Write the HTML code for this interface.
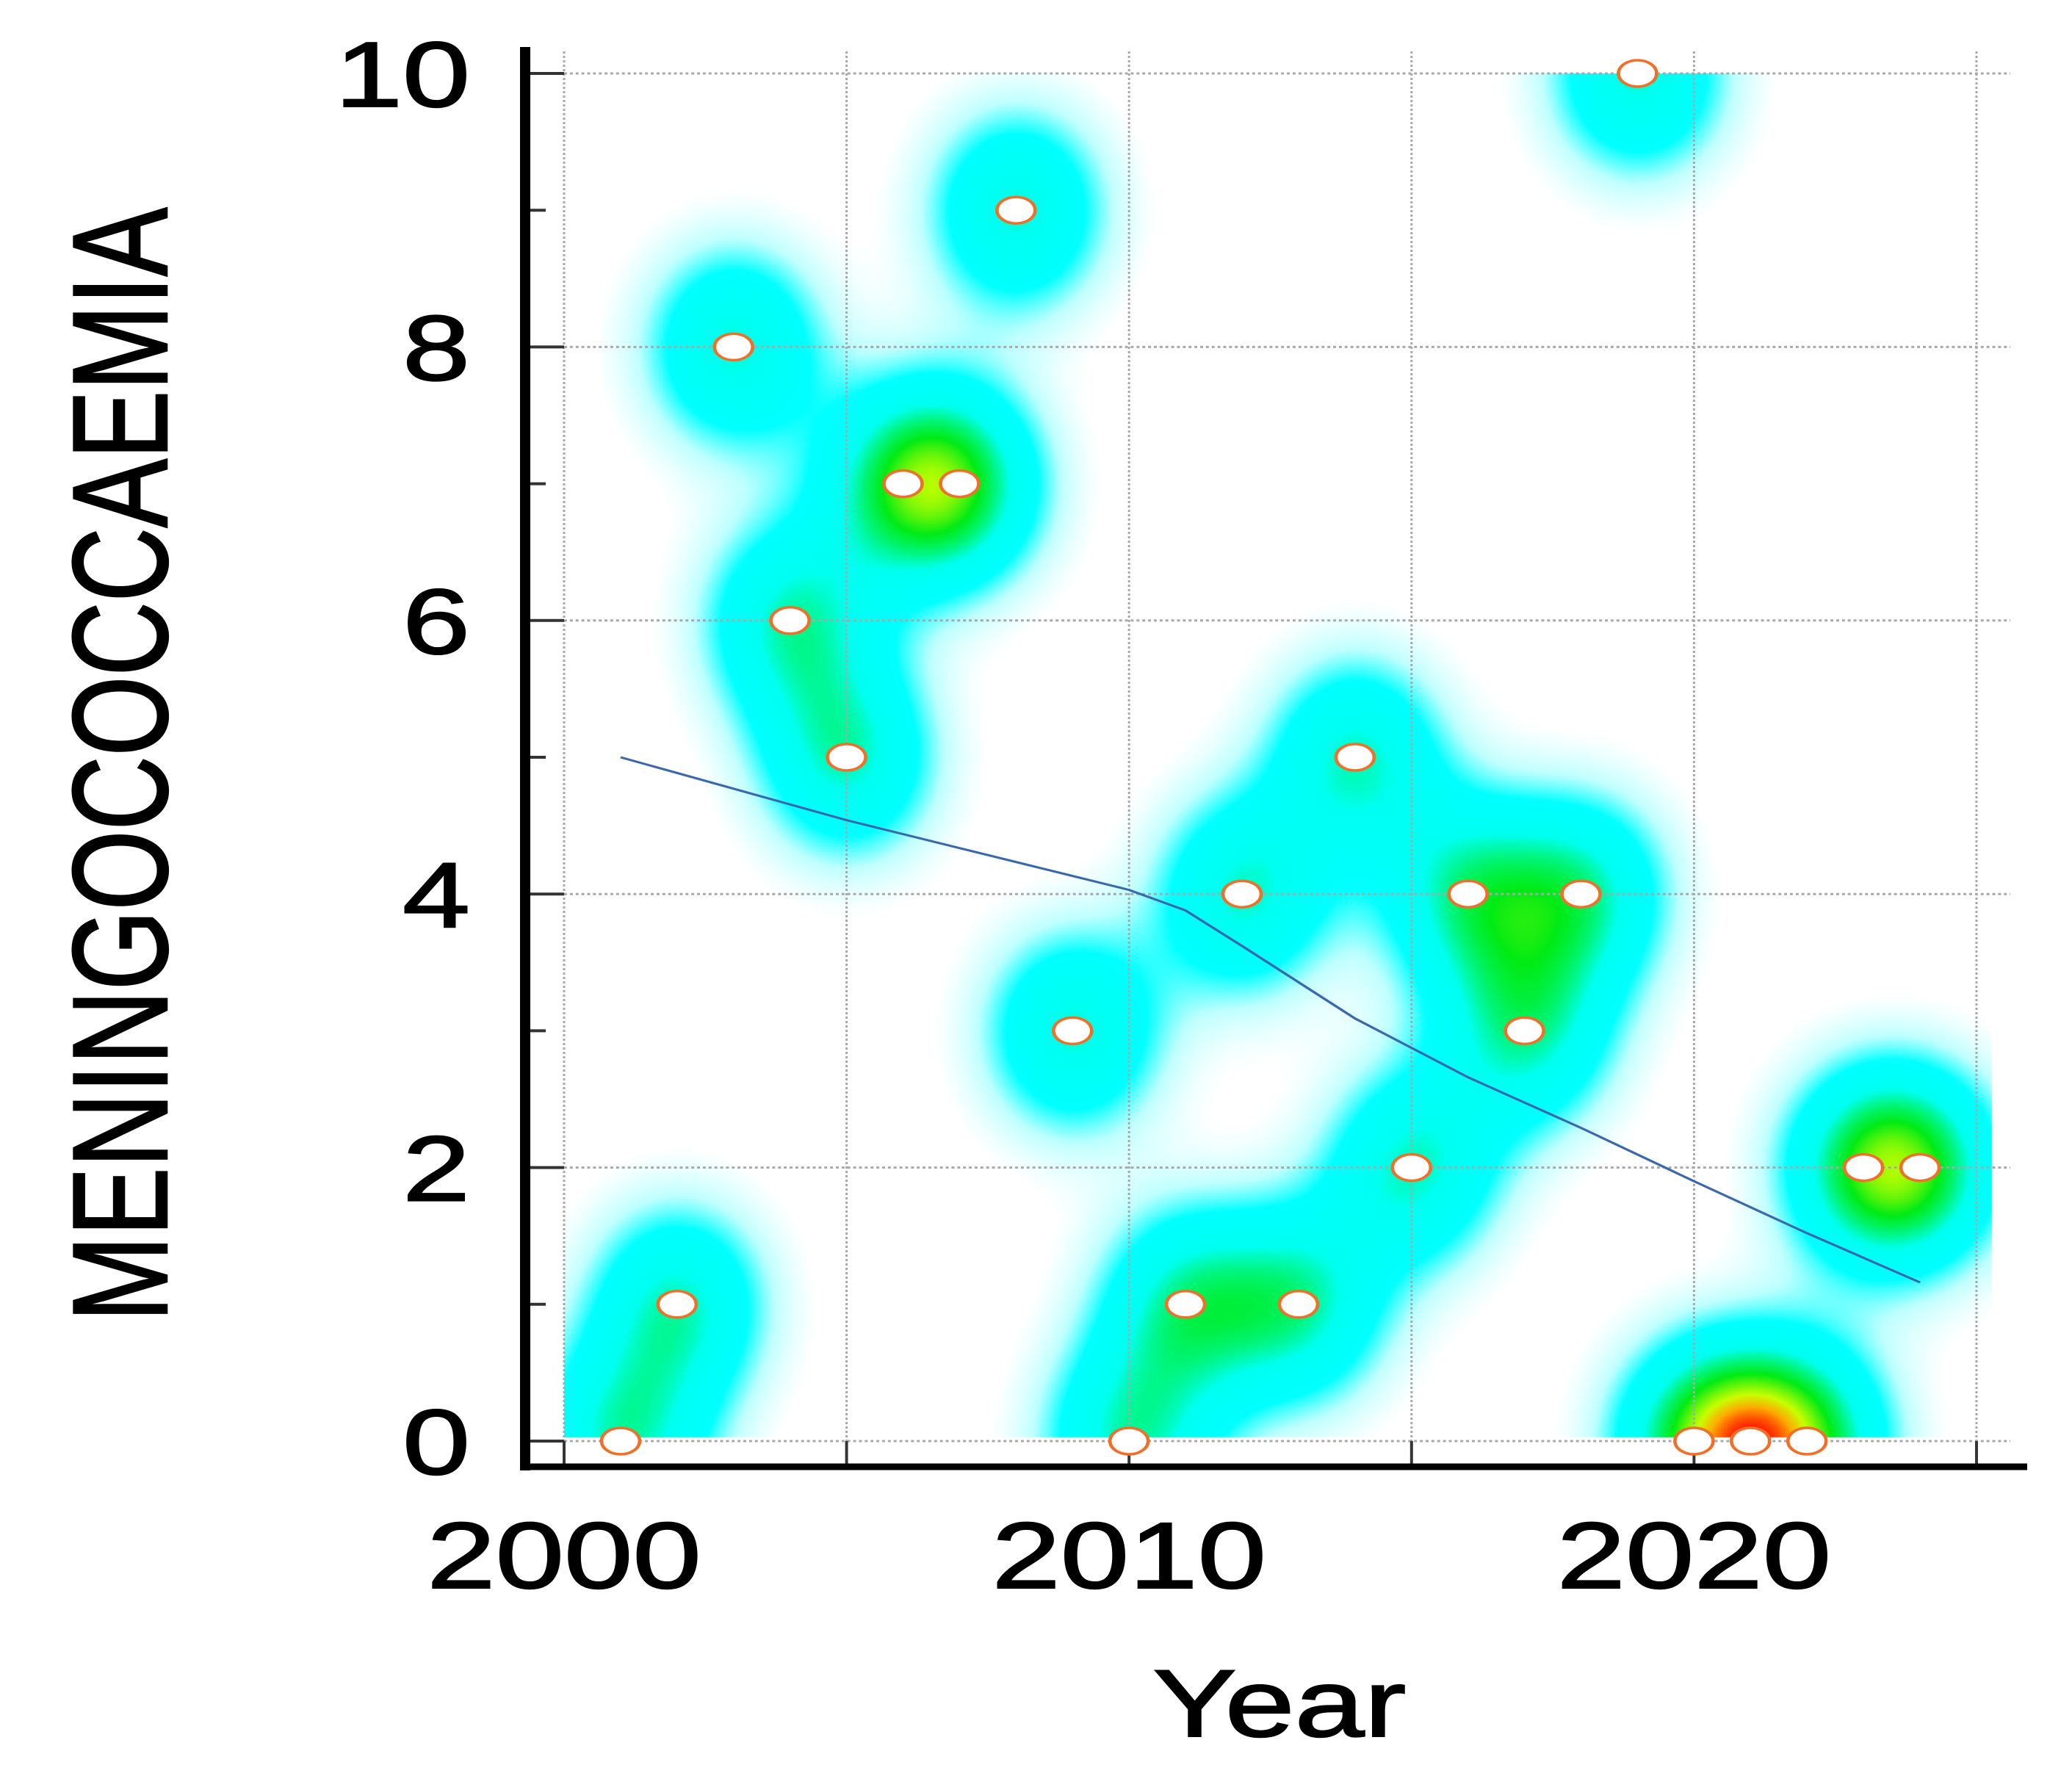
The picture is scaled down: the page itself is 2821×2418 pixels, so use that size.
<!DOCTYPE html>
<html><head><meta charset="utf-8"><style>
html,body{margin:0;padding:0;background:#fff;}
#wrap{position:relative;width:2821px;height:2418px;overflow:hidden;}
#heat{position:absolute;left:0;top:0;}
#svg{position:absolute;left:0;top:0;}
text{font-family:"Liberation Sans",Arial,sans-serif;fill:#000;stroke:#000;stroke-width:2;}
</style></head><body>
<div id="wrap">
<canvas id="heat" width="2821" height="2418"></canvas>
<svg id="svg" width="2821" height="2418" viewBox="0 0 2150 2418" preserveAspectRatio="none"></svg>
</div>
<script>
const years=[2001,2002,2003,2004,2005,2006,2007,2008,2009,2010,2011,2012,2013,2014,2015,2016,2017,2018,2019,2020,2021,2022,2023,2024];
const cases=[0,1,8,6,5,7,7,9,3,0,1,4,1,5,2,4,3,4,10,0,0,0,2,2];
const trendYears=[2001,2005,2010,2011,2012,2014,2016,2018,2020,2022,2024];
const trendValues=[5.0,4.54,4.03,3.88,3.62,3.09,2.66,2.29,1.9,1.52,1.16];
const yTicks=[0,2,4,6,8,10];
const xTickLabels=[2000,2010,2020];
const xGridYears=[2000,2005,2010,2015,2020,2025];

const S=2821/2150;
function xo(v){return 768+(v-2000)*(2691-768)/25;}
function yo(v){return 1962-v*(1962-100)/10;}
function xv(v){return xo(v)/S;}
const NS="http://www.w3.org/2000/svg";
const svg=document.getElementById('svg');
function el(tag,attrs,parent){const e=document.createElementNS(NS,tag);for(const k in attrs)e.setAttribute(k,attrs[k]);(parent||svg).appendChild(e);return e;}

(function(){
  const c=document.getElementById('heat').getContext('2d');
  const x0=768,x1=2712,y0=100,y1=1957,step=3;
  const sx=84,sy=96;
  const img=c.createImageData(2821,2418);
  function col(d){
    const stops=[[0.08,[255,255,255]],[0.3,[190,255,255]],[0.55,[0,255,255]],[0.95,[0,255,240]],[1.2,[0,245,120]],[1.45,[0,235,20]],[1.85,[200,255,0]],[2.05,[255,170,0]],[2.25,[255,40,0]]];
    if(d<=stops[0][0])return null;
    for(let i=1;i<stops.length;i++){if(d<=stops[i][0]){const a=stops[i-1],b=stops[i];const t=(d-a[0])/(b[0]-a[0]);return a[1].map((v,k)=>v+(b[1][k]-v)*t);}}
    return stops[stops.length-1][1];
  }
  const px=years.map(xo),py=cases.map(yo);
  for(let y=y0;y<y1;y+=step){for(let x=x0;x<x1;x+=step){
    let d=0;for(let i=0;i<px.length;i++){const dx=(x-px[i])/sx,dy=(y-py[i])/sy;const q=dx*dx+dy*dy;if(q<14)d+=Math.exp(-q/2);}
    let cc=col(d);if(!cc)continue;
    const r=Math.round(cc[0]),g=Math.round(cc[1]),b=Math.round(cc[2]);
    for(let yy=y;yy<Math.min(y+step,y1);yy++)for(let xx=x;xx<Math.min(x+step,x1);xx++){const o=(yy*2821+xx)*4;img.data[o]=r;img.data[o+1]=g;img.data[o+2]=b;img.data[o+3]=255;}
  }}
  c.putImageData(img,0,0);
})();

yTicks.forEach(v=>{
  const l=el('line',{x1:xo(2000)/S,x2:2737/S,y1:yo(v),y2:yo(v),stroke:'#a8a8a8','stroke-width':3,'stroke-dasharray':'3 3'});
  
  
});
xGridYears.forEach(v=>{
  const l=el('line',{x1:xv(v),x2:xv(v),y1:70,y2:yo(0),stroke:'#a8a8a8','stroke-width':2.3,'stroke-dasharray':'3 3'});
  
  
  const t=el('line',{x1:xv(v),x2:xv(v),y1:yo(0),y2:1995,stroke:'#333','stroke-width':3});
  
  
});
for(let v=0;v<=10;v++){
  const t=el('line',{x1:722/S,x2:(v%2===0?768:743)/S,y1:yo(v),y2:yo(v),stroke:'#333','stroke-width':4});
  
  
}
const ya=el('line',{x1:715/S,x2:715/S,y1:64,y2:2002,stroke:'#000','stroke-width':14/S});


const xa=el('line',{x1:708/S,x2:2760/S,y1:1997,y2:1997,stroke:'#000','stroke-width':9});



const tl=el('polyline',{points:trendYears.map((y,i)=>xv(y)+','+yo(trendValues[i])).join(' '),fill:'none',stroke:'#3a68b0','stroke-width':3});



years.forEach((y,i)=>{
  const m=el('ellipse',{cx:xv(y),cy:yo(cases[i]),rx:26/S,ry:18,fill:'#fff',stroke:'#f07028','stroke-width':3.5});
  
  
});

yTicks.forEach(v=>{
  const t=el('text',{x:640/S,y:yo(v)+45,'font-size':126,'text-anchor':'end'});
  t.textContent=v;
  
  
});
xTickLabels.forEach(v=>{
  const t=el('text',{x:xv(v),y:2162,'font-size':128,'text-anchor':'middle'});
  t.textContent=v;
  
  
});
const xt=el('text',{x:1742/S,y:2364,'font-size':130,'text-anchor':'middle'});
xt.textContent='Year';


const yt=el('text',{x:0,y:0,'font-size':140,'text-anchor':'middle',transform:'translate('+(227/S)+',1041) rotate(-90)'});
yt.textContent='MENINGOCOCCAEMIA';


</script>
</body></html>
